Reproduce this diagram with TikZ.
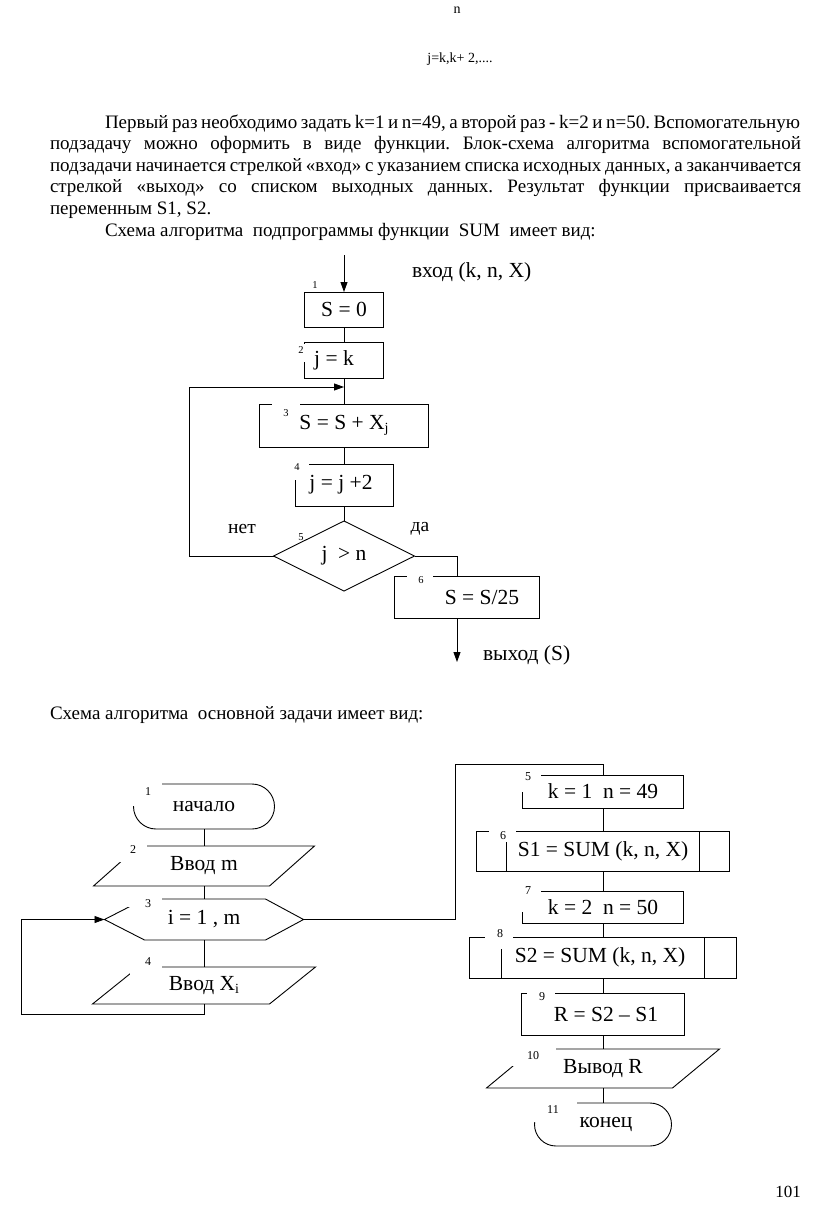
\documentclass[tikz,border=0pt]{standalone}
\usepackage{fontspec}
\setmainfont{Liberation Serif}
\usetikzlibrary{calc,arrows.meta}
\newcommand\dgfnt{\fontsize{21.5}{24}\selectfont}
\newcommand\bodyfnt{\fontsize{19}{22}\selectfont}
\newcommand\subx[1]{\raisebox{-0.3ex}{\fontsize{14}{14}\selectfont #1}}
\frenchspacing
\begin{document}
\begin{tikzpicture}[x=1pt,y=-1pt,
  every node/.style={inner sep=0pt, outer sep=0pt},
  ln/.style={line width=0.9pt},
  box/.style={draw, line width=0.9pt, font=\dgfnt},
  shp/.style={draw=none, font=\dgfnt},
  arr/.style={line width=0.9pt, -{Triangle[length=10pt,width=7pt]}},
  numa/.style={font=\fontsize{10.5}{10.5}\selectfont},
  numb/.style={font=\fontsize{12}{12}\selectfont},
  bl/.style={anchor=base west, font=\bodyfnt}]
\useasboundingbox[fill=white] (0,0) rectangle (816,1205);

% ---------- text ----------
\node (tn) at (457,10) {\fontsize{14}{14}\selectfont n};
\node (tj) at (460,59) {\fontsize{14}{14}\selectfont j=k,k+ 2,....};
\node[bl] (l1) at (105,128) {\makebox[695pt][s]{Первый раз необходимо задать k=1 и n=49, а второй раз - k=2 и n=50. Вспомогательную}};
\node[bl] (l2) at (50,149.6) {\makebox[751pt][s]{подзадачу можно оформить в виде функции. Блок-схема алгоритма вспомогательной}};
\node[bl] (l3) at (50,171.2) {\makebox[751pt][s]{подзадачи начинается стрелкой «вход» с указанием списка исходных данных, а заканчивается}};
\node[bl] (l4) at (50,192.8) {\makebox[751pt][s]{стрелкой «выход» со списком выходных данных. Результат функции присваивается}};
\node[bl] (l5) at (50,214.4) {переменным S1, S2.};
\node[bl] (l6) at (105,236) {Схема алгоритма\ \ подпрограммы функции\ \ SUM\ \ имеет вид:};
\node[bl] (l7) at (50,719) {Схема алгоритма\ \ основной задачи имеет вид:};
\node (pg) at (788,1192) {\fontsize{17}{17}\selectfont 101};

% ---------- flowchart 1 ----------
\node[box, minimum width=79, minimum height=35] (b1) at (344,309.5) {S = 0};
\node[box, minimum width=79, minimum height=36] (b2) at (344,360) {j = k\hspace*{20pt}};
\node[box, minimum width=169, minimum height=43] (b3) at (344,425.5) {S = S + X\subx{j}};
\node[box, minimum width=98, minimum height=42] (b4) at (344,485) {j = j +2\hspace*{6pt}};
\node[shp, minimum width=141, minimum height=70] (d5) at (344,556) {j\ \ > n};
\draw[ln] (d5.west) -- (d5.north) -- (d5.east) -- (d5.south) -- cycle;
\node[box, minimum width=145, minimum height=42] (b6) at (466.5,597) {\hspace*{31pt}S = S/25};

\node[font=\dgfnt, anchor=base west] (vin) at (412,277) {вход (k, n, X)};
\node[font=\dgfnt, anchor=base west] (vout) at (483,660) {выход (S)};
\node[font=\fontsize{19.5}{20}\selectfont] (net) at (242,529) {нет};
\node[font=\fontsize{19.5}{20}\selectfont] (da) at (420,529) {да};

\coordinate (in) at (344,255);
\draw[arr] (in) -- (b1.north);
\draw[ln] (b1.south) -- (b2.north);
\draw[ln] (b2.south) -- (b3.north);
\draw[ln] (b3.south) -- (b4.north);
\draw[ln] (b4.south) -- (d5.north);
\coordinate (lp) at (189,387);
\draw[arr] (d5.west) -| (lp) -- (lp -| b3.north);
\coordinate (yb) at (457,556);
\draw[ln] (d5.east) -- (yb) -- (yb |- b6.north);
\coordinate (ex) at (457,662);
\draw[arr] (ex |- b6.south) -- (ex);

\fill[white] (300,343.5) rectangle (308,362);
\fill[white] (272,400) rectangle (300,416);
\fill[white] (288,458) rectangle (309,480);
\fill[white] (407,570) rectangle (433,584);
\node[numa] (n1) at (315,285) {1};
\node[numa] (n2) at (301,350) {2};
\node[numa] (n3) at (286,413) {3};
\node[numa] (n4) at (297,467) {4};
\node[numa] (n5) at (301,537) {5};
\node[numa] (n6) at (421,580) {6};

% ---------- flowchart 2 ----------
\node[box, rounded corners=22.5pt, minimum width=141, minimum height=45] (t1) at (204,806.5) {начало};
\node[shp, minimum width=221, minimum height=40] (p2) at (204,866) {Ввод m};
\draw[ln] (p2.south west) -- ($(p2.north west)+(45,0)$) -- (p2.north east) -- ($(p2.south east)-(45,0)$) -- cycle;
\node[shp, minimum width=199, minimum height=41] (h3) at (204,919.5) {i = 1 , m};
\draw[ln] (h3.west) -- ($(h3.north west)+(40,0)$) -- ($(h3.north east)-(38,0)$) -- (h3.east) -- ($(h3.south east)-(38,0)$) -- ($(h3.south west)+(40,0)$) -- cycle;
\node[shp, minimum width=223, minimum height=37] (p4) at (204,985.5) {Ввод X\subx{i}};
\draw[ln] (p4.south west) -- ($(p4.north west)+(46,0)$) -- (p4.north east) -- ($(p4.south east)-(46,0)$) -- cycle;

\node[box, minimum width=161, minimum height=33] (b5) at (603,791.5) {k = 1\ \ n = 49};
\node[box, minimum width=253, minimum height=40] (s6) at (603,851) {S1 = SUM (k, n, X)};
\draw[ln] ($(s6.north west)+(30,0)$) -- ($(s6.south west)+(30,0)$);
\draw[ln] ($(s6.north east)-(30,0)$) -- ($(s6.south east)-(30,0)$);
\node[box, minimum width=161, minimum height=32] (b7) at (603,907) {k = 2\ \ n = 50};
\node[box, minimum width=267, minimum height=41] (s8) at (603,957.5) {S2 = SUM (k, n, X)\hspace*{6pt}};
\draw[ln] ($(s8.north west)+(32,0)$) -- ($(s8.south west)+(32,0)$);
\draw[ln] ($(s8.north east)-(32,0)$) -- ($(s8.south east)-(32,0)$);
\node[box, minimum width=163, minimum height=42] (b9) at (603,1014) {\hspace*{6pt}R = S2 – S1};
\node[shp, minimum width=233, minimum height=39] (p10) at (603,1068.5) {Вывод R};
\draw[ln] (p10.south west) -- ($(p10.north west)+(47,0)$) -- (p10.north east) -- ($(p10.south east)-(47,0)$) -- cycle;
\node[box, rounded corners=21.5pt, minimum width=137, minimum height=43] (t11) at (603,1124.5) {\hspace*{6pt}конец};

\draw[ln] (t1.south) -- (p2.north);
\draw[ln] (p2.south) -- (h3.north);
\draw[ln] (h3.south) -- (p4.north);
\coordinate (lp2) at (21,1014);
\draw[arr] (p4.south) |- (lp2) |- (h3.west);
\coordinate (rt) at (455,764);
\draw[ln] (h3.east) -| (rt) -| (b5.north);
\draw[ln] (b5.south) -- (s6.north);
\draw[ln] (s6.south) -- (b7.north);
\draw[ln] (b7.south) -- (s8.north);
\draw[ln] (s8.south) -- (b9.north);
\draw[ln] (b9.south) -- (p10.north);
\draw[ln] (p10.south) -- (t11.north);

\fill[white] (128,778) rectangle (162,806);
\fill[white] (118,838) rectangle (147,862);
\fill[white] (128,893) rectangle (162,907);
\fill[white] (130,955) rectangle (162,976);
\fill[white] (515,768) rectangle (541,792);
\fill[white] (489,826) rectangle (516,842);
\fill[white] (515,884) rectangle (541,912);
\fill[white] (485,926) rectangle (513,949);
\fill[white] (527,985) rectangle (555,1003);
\fill[white] (510,1042) rectangle (556,1066);
\fill[white] (528,1096) rectangle (577,1122);
\node[numb] (m1) at (148,792) {1};
\node[numb] (m2) at (133,850) {2};
\node[numb] (m3) at (148,904) {3};
\node[numb] (m4) at (148,962) {4};
\node[numb] (m5) at (528,777) {5};
\node[numb] (m6) at (503,836) {6};
\node[numb] (m7) at (528,891) {7};
\node[numb] (m8) at (500,934) {8};
\node[numb] (m9) at (542,997) {9};
\node[numb] (m10) at (533,1056) {10};
\node[numb] (m11) at (553,1110) {11};
\end{tikzpicture}
\end{document}
